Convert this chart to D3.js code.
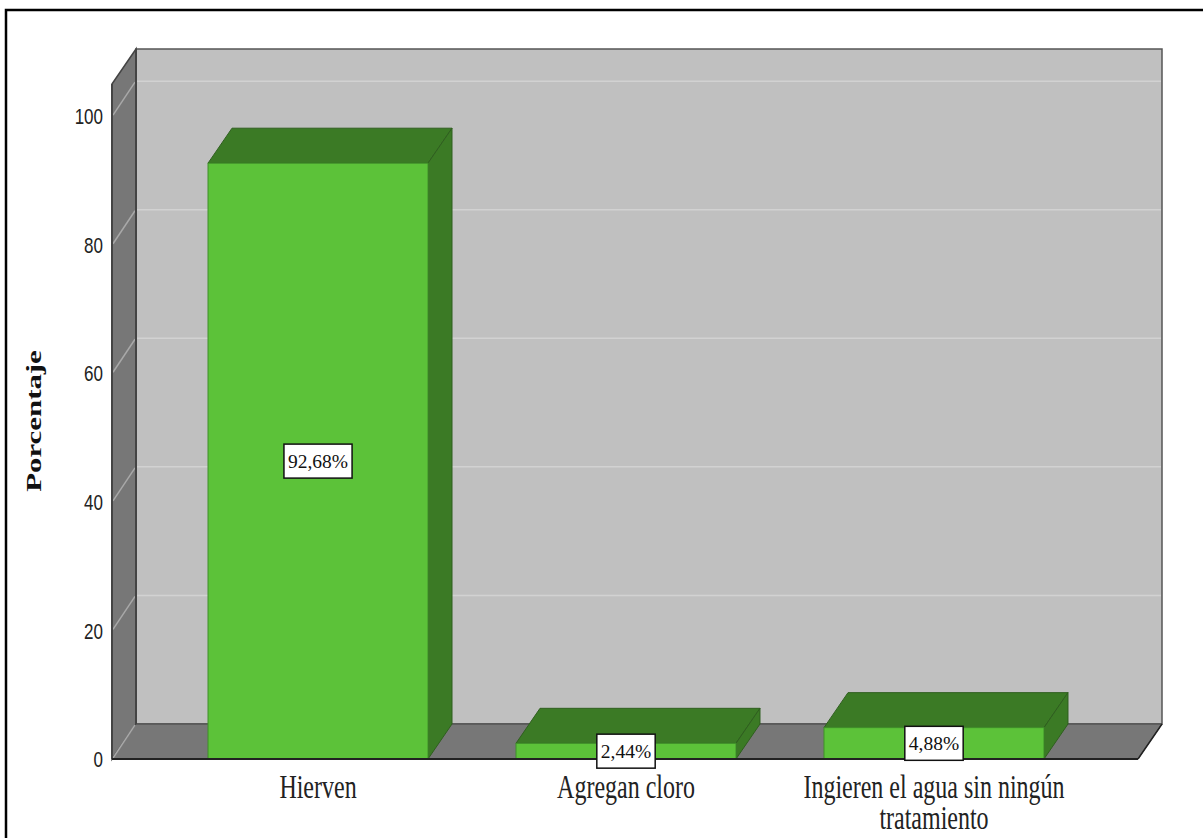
<!DOCTYPE html>
<html>
<head>
<meta charset="utf-8">
<script src="https://cdn.jsdelivr.net/npm/d3@7"></script>
<style>
  html, body { margin: 0; padding: 0; background: #fff; }
  svg { display: block; }
</style>
</head>
<body>
<script>
// ---- data ----
const categories = ["Hierven", "Agregan cloro", "Ingieren el agua sin ningún tratamiento"];
const categoryLines = [["Hierven"], ["Agregan cloro"], ["Ingieren el agua sin ningún", "tratamiento"]];
const values = [92.68, 2.44, 4.88];
const valueLabels = ["92,68%", "2,44%", "4,88%"];
const yTicks = [0, 20, 40, 60, 80, 100];
const yTitle = "Porcentaje";
const yMax = 105;

const W = 1203, H = 838;
const svg = d3.select("body").append("svg").attr("width", W).attr("height", H);

svg.append("rect").attr("x", 0).attr("y", 0).attr("width", W).attr("height", H).attr("fill", "#fff");
// outer frame
svg.append("rect").attr("x", 6).attr("y", 10).attr("width", W + 20).attr("height", H + 20)
  .attr("fill", "none").attr("stroke", "#000").attr("stroke-width", 2.5);

// geometry
const x0 = 112, x1 = 1138;     // front floor edge
const dx = 24, dy = -35;        // depth offset
const y = d3.scaleLinear().domain([0, yMax]).range([759, 84]);
const x = d3.scaleBand().domain(categories).range([164, 1088]).paddingInner(0.2857).paddingOuter(0.1429);

const wallDark = "#777777", wallLight = "#c0c0c0";
const poly = pts => pts.map(p => p.join(",")).join(" ");

// back wall
svg.append("polygon")
  .attr("points", poly([[x0 + dx, y(yMax) + dy], [x1 + dx, y(yMax) + dy], [x1 + dx, y(0) + dy], [x0 + dx, y(0) + dy]]))
  .attr("fill", wallLight).attr("stroke", "#555").attr("stroke-width", 1.5);
// left wall
svg.append("polygon")
  .attr("points", poly([[x0, y(yMax)], [x0 + dx, y(yMax) + dy], [x0 + dx, y(0) + dy], [x0, y(0)]]))
  .attr("fill", wallDark).attr("stroke", "#444").attr("stroke-width", 1.5);
// floor
svg.append("polygon")
  .attr("points", poly([[x0, y(0)], [x0 + dx, y(0) + dy], [x1 + dx, y(0) + dy], [x1, y(0)]]))
  .attr("fill", wallDark).attr("stroke", "#444").attr("stroke-width", 1);

// gridlines
const grid = svg.append("g");
yTicks.forEach(t => {
  if (t > 0) {
    grid.append("line").attr("x1", x0 + dx + 1).attr("x2", x1 + dx - 1)
      .attr("y1", y(t) + dy).attr("y2", y(t) + dy)
      .attr("stroke", "#d2d2d2").attr("stroke-width", 1.5);
  }
  grid.append("line").attr("x1", x0 + 1).attr("x2", x0 + dx - 1)
    .attr("y1", y(t) - 1).attr("y2", y(t) + dy + 1)
    .attr("stroke", "#a8a8a8").attr("stroke-width", 1.5);
});
svg.append("line").attr("x1", x0 + dx).attr("x2", x0 + dx)
  .attr("y1", y(yMax) + dy).attr("y2", y(0) + dy).attr("stroke", "#444").attr("stroke-width", 2);
svg.append("line").attr("x1", x0).attr("x2", x0)
  .attr("y1", y(yMax)).attr("y2", y(0)).attr("stroke", "#444").attr("stroke-width", 2);

// bars
const front = "#5cc239", darkG = "#3b7a25", edge = "#2f5f1f";
const bars = svg.append("g").selectAll("g").data(categories).join("g");
bars.each(function(c, i) {
  const g = d3.select(this);
  const bx = x(c), bw = x.bandwidth(), top = y(values[i]), bot = y(0);
  g.append("polygon").attr("points", poly([[bx, top], [bx + dx, top + dy], [bx + bw + dx, top + dy], [bx + bw, top]]))
    .attr("fill", darkG).attr("stroke", edge).attr("stroke-width", 1);
  g.append("polygon").attr("points", poly([[bx + bw, top], [bx + bw + dx, top + dy], [bx + bw + dx, bot + dy], [bx + bw, bot]]))
    .attr("fill", darkG).attr("stroke", edge).attr("stroke-width", 1);
  g.append("rect").attr("x", bx).attr("y", top).attr("width", bw).attr("height", bot - top)
    .attr("fill", front).attr("stroke", "#3f8f2a").attr("stroke-width", 1);
});

// front floor edge (baseline)
svg.append("line").attr("x1", x0).attr("x2", x1).attr("y1", y(0)).attr("y2", y(0))
  .attr("stroke", "#222").attr("stroke-width", 2);
svg.append("line").attr("x1", x1).attr("x2", x1 + dx).attr("y1", y(0)).attr("y2", y(0) + dy)
  .attr("stroke", "#222").attr("stroke-width", 1.5);

// value labels
const vl = svg.append("g");
categories.forEach((c, i) => {
  const cx = x(c) + x.bandwidth() / 2;
  const cy = (y(values[i]) + y(0)) / 2;
  const t = vl.append("text").attr("x", cx).attr("y", cy + 6.5)
    .attr("text-anchor", "middle")
    .attr("font-family", "'Liberation Serif', 'Times New Roman', serif")
    .attr("font-size", 19.5).attr("fill", "#111").text(valueLabels[i]);
  const w = t.node().getComputedTextLength();
  vl.insert("rect", "text").attr("x", cx - w / 2 - 4).attr("y", cy - 17)
    .attr("width", w + 8).attr("height", 34)
    .attr("fill", "#fff").attr("stroke", "#111").attr("stroke-width", 1.5);
});

// y axis tick labels
const yAxis = d3.axisLeft(y).tickValues(yTicks).tickSize(0).tickPadding(9).tickFormat(d3.format("d"));
const ya = svg.append("g").attr("transform", `translate(${x0},0)`).call(yAxis);
ya.select(".domain").remove();
ya.selectAll(".tick text")
  .attr("font-family", "'Liberation Sans', Arial, sans-serif")
  .attr("font-size", 17).attr("fill", "#222")
  .attr("y", 0).attr("dy", "0.36em")
  .attr("transform", "scale(1,1.25)");

// category labels (multi-line via tspans)
const sy = 1.38;
const cl = svg.append("g");
categories.forEach((c, i) => {
  const cx = x(c) + x.bandwidth() / 2;
  const t = cl.append("text")
    .attr("transform", `translate(${cx},798) scale(1,${sy})`)
    .attr("text-anchor", "middle")
    .attr("font-family", "'Liberation Serif', 'Times New Roman', serif")
    .attr("font-size", 24).attr("fill", "#222");
  categoryLines[i].forEach((ln, j) => {
    t.append("tspan").attr("x", 0).attr("y", j * 31 / sy).text(ln);
  });
});

// y title
svg.append("text")
  .attr("transform", "translate(41,421) rotate(-90) scale(1.47,1)")
  .attr("text-anchor", "middle")
  .attr("font-family", "'Liberation Serif', 'Times New Roman', serif")
  .attr("font-weight", "bold").attr("font-size", 21).attr("fill", "#111")
  .text(yTitle);
</script>
</body>
</html>
